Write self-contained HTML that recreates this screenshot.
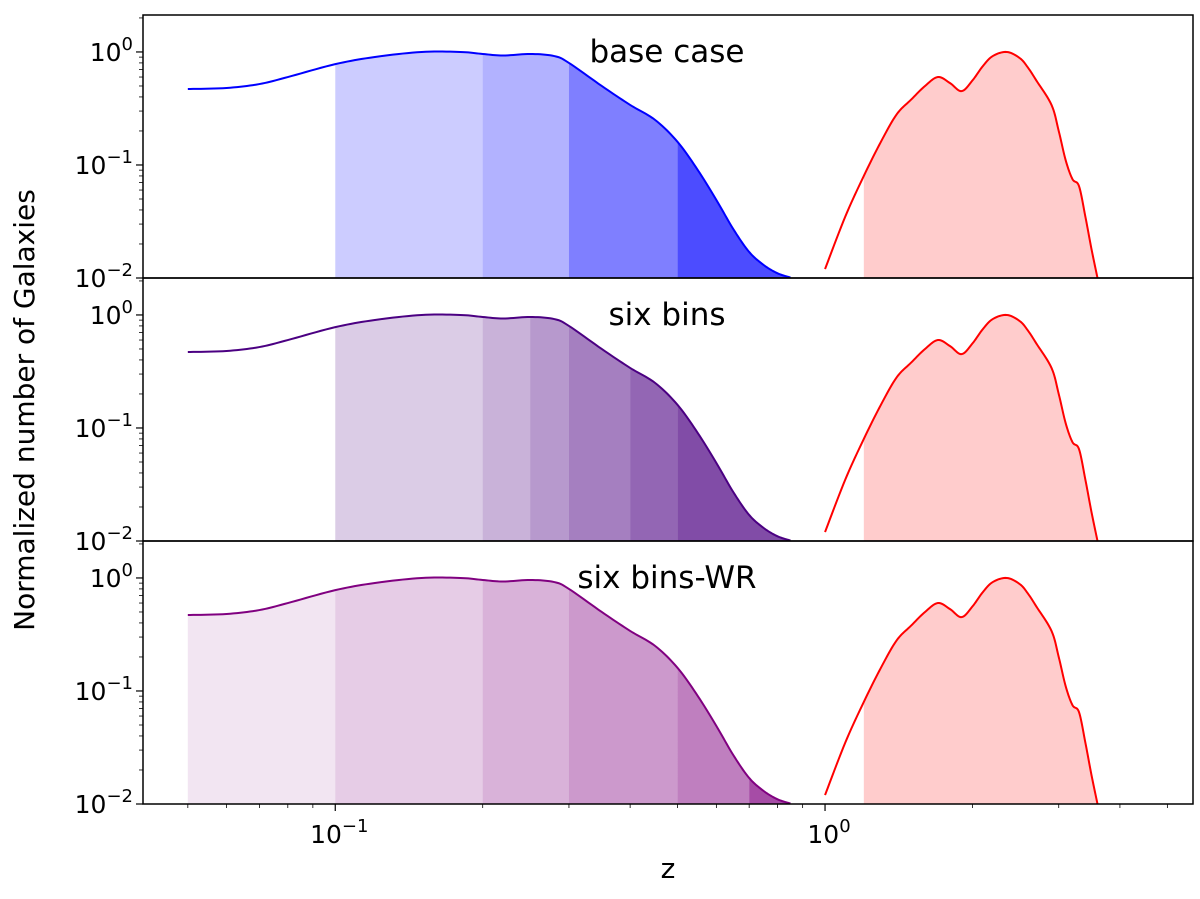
<!DOCTYPE html>
<html><head><meta charset="utf-8"><style>
body{margin:0;background:#fff;}
svg{display:block;font-family:"DejaVu Sans","Liberation Sans",sans-serif;}
</style></head><body>
<svg id="chart" width="1200" height="899" viewBox="0 0 1200 899"></svg>
<script>
const lowZ=[0.05,0.06,0.07,0.08,0.1,0.12,0.15,0.18,0.2,0.22,0.25,0.28,0.3,0.35,0.4,0.45,0.5,0.55,0.6,0.65,0.7,0.75,0.8,0.85];
const lowN=[0.47,0.48,0.52,0.6,0.78,0.9,1.0,1.0,0.96,0.93,0.96,0.92,0.8,0.5,0.34,0.25,0.16,0.09,0.049,0.027,0.017,0.013,0.011,0.0101];
const highZ=[1.0,1.1,1.2,1.3,1.4,1.5,1.6,1.7,1.8,1.9,2.0,2.1,2.2,2.35,2.5,2.6,2.7,2.9,3.0,3.1,3.2,3.3,3.4,3.5,3.6];
const highN=[0.012,0.035,0.08,0.16,0.28,0.38,0.5,0.6,0.53,0.45,0.56,0.75,0.92,1.0,0.88,0.72,0.56,0.34,0.2,0.11,0.075,0.065,0.035,0.018,0.01];
const panelTitles=["base case","six bins","six bins-WR"];
const panelColors=["#0000ff","#4b0082","#800080"];
const panelBins=[[0.1,0.2,0.3,0.5,0.85],[0.1,0.2,0.25,0.3,0.4,0.5,0.85],[0.05,0.1,0.2,0.3,0.5,0.7,0.85]];
const panelAlphas=[[0.2,0.3,0.5,0.7],[0.2,0.3,0.4,0.5,0.6,0.7],[0.1,0.2,0.3,0.4,0.5,0.7]];
const redFillStart=1.2;
const xTickVals=[0.1,1];
const xTickLabels=["10","10"];
const xTickExps=["−1","0"];
const yTickVals=[1,0.1,0.01];
const yTickExps=["0","−1","−2"];

const NS="http://www.w3.org/2000/svg";
const svg=document.getElementById('chart');
const L=143,R=1193,panelTop=[15,278,541],PH=263;
const xMin=Math.log10(0.0405),xMax=Math.log10(5.64);
function X(z){return L+(Math.log10(z)-xMin)/(xMax-xMin)*(R-L);}
const yMaxL=0.327,yMinL=-2;
function Y(v,p){return panelTop[p]+(yMaxL-Math.log10(v))/(yMaxL-yMinL)*PH;}
function mk(t,a,parent){const e=document.createElementNS(NS,t);for(const k in a)e.setAttribute(k,a[k]);(parent||svg).appendChild(e);return e;}
// Catmull-Rom densify in log-log space
function densify(zs,ns){
  const lx=zs.map(Math.log10),ly=ns.map(Math.log10);const oz=[],on=[];
  for(let i=0;i<lx.length-1;i++){
    const x0=lx[Math.max(0,i-1)],x1=lx[i],x2=lx[i+1],x3=lx[Math.min(lx.length-1,i+2)];
    const y0=ly[Math.max(0,i-1)],y1=ly[i],y2=ly[i+1],y3=ly[Math.min(ly.length-1,i+2)];
    for(let k=0;k<10;k++){const t=k/10,t2=t*t,t3=t2*t;
      const f=(a,b,c,d)=>0.5*(2*b+(-a+c)*t+(2*a-5*b+4*c-d)*t2+(-a+3*b-3*c+d)*t3);
      oz.push(Math.pow(10,f(x0,x1,x2,x3)));on.push(Math.pow(10,f(y0,y1,y2,y3)));}
  }
  oz.push(zs[zs.length-1]);on.push(ns[ns.length-1]);return [oz,on];
}
function interp(zs,ns,z){
  for(let i=0;i<zs.length-1;i++){if(z>=zs[i]&&z<=zs[i+1]){const t=(Math.log10(z)-Math.log10(zs[i]))/(Math.log10(zs[i+1])-Math.log10(zs[i]));return Math.pow(10,Math.log10(ns[i])+t*(Math.log10(ns[i+1])-Math.log10(ns[i])));}}
  return ns[ns.length-1];
}
function areaPath(zs,ns,a,b,p){
  let pts=[[a,interp(zs,ns,a)]];
  zs.forEach((z,i)=>{if(z>a&&z<b)pts.push([z,ns[i]]);});
  pts.push([b,interp(zs,ns,b)]);
  const base=panelTop[p]+PH;
  let d="M"+X(a)+","+base;
  pts.forEach(q=>{d+=" L"+X(q[0])+","+Math.min(base,Y(q[1],p));});
  d+=" L"+X(b)+","+base+" Z";return d;
}
function linePath(zs,ns,p){const base=panelTop[p]+PH;return zs.map((z,i)=>(i?"L":"M")+X(z)+","+Math.min(base,Y(ns[i],p))).join(" ");}
const [lZ,lN]=densify(lowZ,lowN);
const [hZ,hN]=densify(highZ,highN);

for(let p=0;p<3;p++){
  const g=mk('g',{});
  
  
  const bins=panelBins[p];
  for(let i=0;i<bins.length-1;i++){
    const e=mk('path',{d:areaPath(lZ,lN,bins[i],bins[i+1],p),fill:panelColors[p],'fill-opacity':panelAlphas[p][i]},g);
    
    
  }
  const rf=mk('path',{d:areaPath(hZ,hN,redFillStart,highZ[highZ.length-1],p),fill:'#ffcccc'},g);
  
  
  const ll=mk('path',{d:linePath(lZ,lN,p),fill:'none',stroke:panelColors[p],'stroke-width':2},g);
  
  
  const hl=mk('path',{d:linePath(hZ,hN,p),fill:'none',stroke:'#ff0000','stroke-width':2},g);
  
  
  const fr=mk('rect',{x:L,y:panelTop[p],width:R-L,height:PH,fill:'none',stroke:'#000','stroke-width':1.5},g);
  
  
  const tt=mk('text',{x:667,y:panelTop[p]+47,'text-anchor':'middle','font-size':31},g);
  tt.textContent=panelTitles[p];
  
  
  yTickVals.forEach((v,i)=>{
    const y=Y(v,p);
    mk('line',{x1:L-7,x2:L,y1:y,y2:y,stroke:'#000','stroke-width':1.2},g);
    const t=mk('text',{x:L-10,y:y+9,'text-anchor':'end','font-size':25},g);
    t.innerHTML='10<tspan dy="-11" font-size="18">'+yTickExps[i]+'</tspan>';
    
    
  });
  for(let d=-2;d<=0;d++)for(let m=2;m<=9;m++){const v=m*Math.pow(10,d);if(Math.log10(v)>yMaxL)continue;const y=Y(v,p);mk('line',{x1:L-4,x2:L,y1:y,y2:y,stroke:'#000','stroke-width':0.8},g);}
}
const bottom=panelTop[2]+PH;
xTickVals.forEach((v,i)=>{
  const x=X(v);
  mk('line',{x1:x,x2:x,y1:bottom,y2:bottom+7,stroke:'#000','stroke-width':1.2});
  const t=mk('text',{x:x+4,y:bottom+39,'text-anchor':'middle','font-size':25});
  t.innerHTML=xTickLabels[i]+'<tspan dy="-11" font-size="18">'+xTickExps[i]+'</tspan>';
  
  
});
for(let d=-2;d<=0;d++)for(let m=2;m<=9;m++){const v=m*Math.pow(10,d);const x=X(v);if(x<L||x>R)continue;mk('line',{x1:x,x2:x,y1:bottom,y2:bottom+4,stroke:'#000','stroke-width':0.8});}
const xl=mk('text',{x:668,y:878,'text-anchor':'middle','font-size':28});xl.textContent='z';


const yl=mk('text',{x:0,y:0,'text-anchor':'middle','font-size':28,transform:'translate(34,410) rotate(-90)'});yl.textContent='Normalized number of Galaxies';


</script>
</body></html>
